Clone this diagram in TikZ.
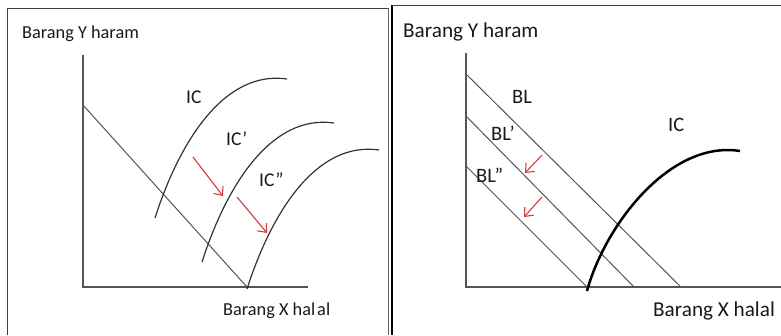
\documentclass[tikz,border=0pt]{standalone}
\usepackage{fontspec}
\setmainfont{Carlito}
\usetikzlibrary{arrows.meta}
\definecolor{arrred}{RGB}{214,58,58}
\definecolor{lgray}{RGB}{85,85,85}
\tikzset{
  frame/.style={line width=1pt, black!75},
  axis/.style={line width=1.1pt, lgray},
  bline/.style={line width=1pt, lgray},
  iccurve/.style={line width=1.2pt, black!80},
  thickic/.style={line width=2.5pt, black},
  shiftarrow/.style={line width=1.1pt, arrred, -{Straight Barb[length=7pt,width=12pt]}},
  lbl/.style={inner sep=0pt, anchor=base west, font=\fontsize{19.5}{22}\selectfont, text=black!90},
  axlbl/.style={inner sep=0pt, anchor=base west, text=black!90},
}
\begin{document}
\begin{tikzpicture}[x=1pt,y=-1pt]
\useasboundingbox (0,0) rectangle (781,335);
% frames
\draw[frame] (7,335) -- (7,8) -- (388,8);
\draw[line width=0.8pt, black!60] (388,8) -- (388,335);
\draw[line width=1.6pt, black] (392,5) -- (392,335);
\draw[frame] (392,5) -- (781,5);

% ---------- left panel ----------
\coordinate (LO) at (83,287);
\coordinate (LYtop) at (83,55);
\coordinate (LXend) at (308,287);
\draw[axis] (LYtop) -- (LO) -- (LXend);
\coordinate (LB1) at (83,105);
\coordinate (LB2) at (247,287);
\draw[bline] (LB1) -- (LB2);
\draw[iccurve] (155,218) .. controls (180,140) and (225,70) .. (287,79);
\draw[iccurve] (202,262) .. controls (227,184) and (272,114) .. (334,123);
\draw[iccurve] (247,289) .. controls (272,211) and (317,141) .. (379,150);
\coordinate (LA1s) at (193,157);
\coordinate (LA1e) at (223,196);
\coordinate (LA2s) at (237,197);
\coordinate (LA2e) at (267,233);
\draw[shiftarrow] (LA1s) -- (LA1e);
\draw[shiftarrow] (LA2s) -- (LA2e);
\node[axlbl, font=\fontsize{18.3}{20}\selectfont] (LYlab) at (22,38) {Barang Y haram};
\node[axlbl, font=\fontsize{18.3}{20}\selectfont] (LXlab) at (223,315) {Barang X hal\kern2pt al};
\node[lbl] (LIC) at (186,103) {IC};
\node[lbl] (LIC1) at (226,145) {IC’};
\node[lbl] (LIC2) at (259,186) {IC”};

% ---------- right panel ----------
\coordinate (RO) at (466,287);
\coordinate (RYtop) at (466,53);
\coordinate (RXend) at (781,287);
\draw[axis] (RYtop) -- (RO) -- (RXend);
\coordinate (RB1a) at (466,74);
\coordinate (RB1b) at (682,288);
\coordinate (RB2a) at (466,116);
\coordinate (RB2b) at (635,288);
\coordinate (RB3a) at (466,166);
\coordinate (RB3b) at (588,288);
\draw[bline] (RB1a) -- (RB1b);
\draw[bline] (RB2a) -- (RB2b);
\draw[bline] (RB3a) -- (RB3b);
\draw[thickic] (587,291) .. controls (605,225) and (670,140) .. (740,151);
\coordinate (RA1s) at (542,155);
\coordinate (RA1e) at (525,173);
\coordinate (RA2s) at (542,197);
\coordinate (RA2e) at (524,217);
\draw[shiftarrow] (RA1s) -- (RA1e);
\draw[shiftarrow] (RA2s) -- (RA2e);
\node[axlbl, font=\fontsize{21.2}{24}\selectfont] (RYlab) at (403,37) {Barang Y haram};
\node[axlbl, font=\fontsize{21.2}{24}\selectfont] (RXlab) at (653,316) {Barang X halal};
\node[lbl, font=\fontsize{20.5}{24}\selectfont] (RBL) at (512,103) {BL};
\node[lbl, font=\fontsize{20.5}{24}\selectfont] (RBL1) at (491,140) {BL’};
\node[lbl, font=\fontsize{20.5}{24}\selectfont] (RBL2) at (476,182) {BL”};
\node[lbl, font=\fontsize{20.5}{24}\selectfont] (RIC) at (668,131) {IC};
\end{tikzpicture}
\end{document}
